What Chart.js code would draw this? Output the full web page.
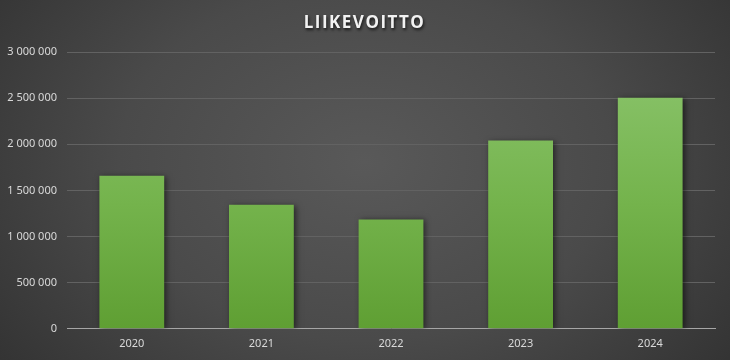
<!DOCTYPE html>
<html>
<head>
<meta charset="utf-8">
<script src="https://cdn.jsdelivr.net/npm/chart.js@4/dist/chart.umd.min.js"></script>
<style>
  html, body { margin: 0; padding: 0; }
  body { width: 730px; height: 360px; overflow: hidden;
    background: radial-gradient(ellipse 75% 110% at 50% 45%, #595959 0%, #4a4a4a 45%, #2a2a2a 100%); }
  #wrap { position: relative; width: 730px; height: 360px; }
</style>
</head>
<body>
<div id="wrap"><canvas id="c" width="730" height="360"></canvas></div>
<script>
const title = 'LIIKEVOITTO';
const categories = ['2020', '2021', '2022', '2023', '2024'];
const profit = [1660000, 1345000, 1185000, 2040000, 2505000];
const yTicks = [0, 500000, 1000000, 1500000, 2000000, 2500000, 3000000];

function fmt(v) {
  return String(v).replace(/\B(?=(\d{3})+(?!\d))/g, ' ');
}

const shadowPlugin = {
  id: 'barShadow',
  beforeDatasetDraw(chart) {
    const ctx = chart.ctx;
    ctx.save();
    ctx.shadowColor = 'rgba(0,0,0,0.55)';
    ctx.shadowBlur = 6;
    ctx.shadowOffsetX = 2;
    ctx.shadowOffsetY = 1;
  },
  afterDatasetDraw(chart) {
    chart.ctx.restore();
  }
};

const titleShadow = {
  id: 'titleShadow',
  beforeDraw(chart) {
    const t = chart.titleBlock;
    if (t && !t._patched) {
      const orig = t.draw.bind(t);
      t.draw = function () {
        const ctx = chart.ctx;
        ctx.save();
        ctx.translate(7, 0);
        ctx.letterSpacing = '1.5px';
        ctx.shadowColor = 'rgba(0,0,0,0.7)';
        ctx.shadowBlur = 3;
        ctx.shadowOffsetX = 1;
        ctx.shadowOffsetY = 2;
        orig();
        ctx.restore();
      };
      t._patched = true;
    }
  }
};

function barGradient(context) {
  const chart = context.chart;
  const area = chart.chartArea;
  if (!area) return '#70ad47';
  const y = chart.scales.y;
  const g = chart.ctx.createLinearGradient(0, y.getPixelForValue(3000000), 0, y.getPixelForValue(0));
  g.addColorStop(0, '#8cc56e');
  g.addColorStop(0.55, '#74b34c');
  g.addColorStop(1, '#5f9f33');
  return g;
}

new Chart(document.getElementById('c'), {
  type: 'bar',
  data: {
    labels: categories,
    datasets: [{
      data: profit,
      backgroundColor: barGradient,
      borderWidth: 0,
      categoryPercentage: 0.5,
      barPercentage: 1.0
    }]
  },
  plugins: [shadowPlugin, titleShadow],
  options: {
    responsive: false,
    animation: false,
    layout: { padding: { left: 0, right: 15, top: 0, bottom: 2 } },
    plugins: {
      legend: { display: false },
      tooltip: { enabled: false },
      title: {
        display: true,
        text: title,
        color: '#f2f2f2',
        font: { family: 'Open Sans', size: 17, weight: 'bold', lineHeight: 1.2 },
        padding: { top: 13, bottom: 18.6 }
      }
    },
    scales: {
      x: {
        grid: { display: false, drawTicks: false },
        border: { display: true, color: '#a6a6a6', width: 1 },
        ticks: { color: '#d9d9d9', font: { family: 'Noto Sans', size: 11 }, padding: 8 }
      },
      y: {
        min: 0,
        max: 3000000,
        afterFit(scale) { scale.width = 67; },
        afterBuildTicks(scale) { scale.ticks = yTicks.map(v => ({ value: v })); },
        grid: { color: '#626262', lineWidth: 1, drawTicks: false },
        border: { display: false },
        ticks: {
          color: '#d9d9d9',
          font: { family: 'Noto Sans', size: 11 },
          padding: 10,
          callback: (v) => fmt(v)
        }
      }
    }
  }
});
</script>
</body>
</html>
